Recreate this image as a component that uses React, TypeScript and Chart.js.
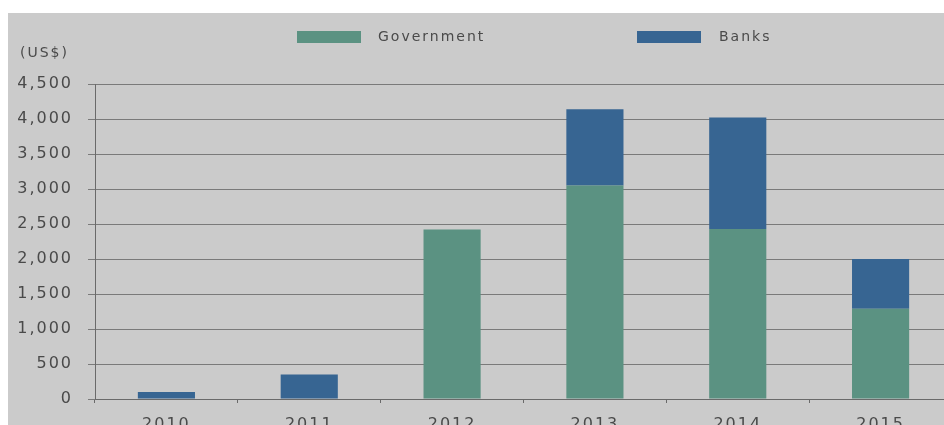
import React, { useEffect, useRef } from "react";
import { Chart, registerables } from "chart.js";

Chart.register(...registerables);

const categories = ["2010", "2011", "2012", "2013", "2014", "2015"];
const government = [0, 0, 2420, 3050, 2430, 1290];
const banks = [100, 350, 0, 1090, 1590, 710];
const yTicks = [0, 500, 1000, 1500, 2000, 2500, 3000, 3500, 4000, 4500];
const unitLabel = "(US$)";

const GOV = "#5b9282";
const BANK = "#376592";
const TEXT = "#4a4a4a";
const LS = "2px";

const spacingPlugin = {
  id: "spacing",
  beforeLayout(chart: any) {
    chart.ctx.letterSpacing = LS;
  },
  beforeDraw(chart: any) {
    chart.ctx.letterSpacing = LS;
  },
};

const legendPlugin = {
  id: "customLegend",
  afterDraw(chart: any) {
    const ctx = chart.ctx;
    ctx.save();
    ctx.letterSpacing = "2px";
    const items = [
      { x: 289, tx: 370 },
      { x: 629, tx: 711 },
    ];
    chart.data.datasets.forEach((ds: any, i: number) => {
      const it = items[i];
      ctx.fillStyle = ds.backgroundColor;
      ctx.fillRect(it.x, 18, 64, 12);
      ctx.fillStyle = TEXT;
      ctx.font = "14px 'DejaVu Sans'";
      ctx.textBaseline = "middle";
      ctx.textAlign = "left";
      ctx.fillText(ds.label, it.tx, 24);
    });
    ctx.font = "14px 'DejaVu Sans'";
    ctx.fillStyle = TEXT;
    ctx.textBaseline = "middle";
    ctx.fillText(unitLabel, 12, 40);
    ctx.restore();
  },
};

export default function App() {
  const ref = useRef<HTMLCanvasElement | null>(null);
  useEffect(() => {
    if (!ref.current) return;
    const chart = new Chart(ref.current, {
      type: "bar",
      data: {
        labels: categories,
        datasets: [
          { label: "Government", data: government, backgroundColor: GOV, categoryPercentage: 1, barPercentage: 0.4 },
          { label: "Banks", data: banks, backgroundColor: BANK, categoryPercentage: 1, barPercentage: 0.4 },
        ],
      },
      options: {
        responsive: false,
        animation: false,
        devicePixelRatio: 1,
        layout: { padding: { left: 0, top: 71, right: 16, bottom: 13 } },
        plugins: { legend: { display: false }, tooltip: { enabled: false }, title: { display: false } },
        scales: {
          x: {
            stacked: true,
            grid: { display: true, drawOnChartArea: false, offset: true, tickLength: 4, color: "#6a6a6a" },
            border: { display: true, color: "#6a6a6a" },
            ticks: { color: TEXT, font: { family: "'DejaVu Sans'", size: 16 }, padding: 12 },
            afterFit: (s: any) => { s.height = 31; },
          },
          y: {
            stacked: true,
            min: 0,
            max: 4500,
            afterBuildTicks: (s: any) => { s.ticks = yTicks.map((v) => ({ value: v })); },
            grid: { color: "#7a7a7a", tickLength: 7 },
            border: { display: true, color: "#6a6a6a" },
            ticks: {
              color: TEXT,
              font: { family: "'DejaVu Sans'", size: 16 },
              padding: 15,
              callback: (v: any) => Number(v).toLocaleString("en-US"),
            },
            afterFit: (s: any) => { s.width = 87; },
          },
        },
      },
      plugins: [spacingPlugin, legendPlugin],
    });
    return () => chart.destroy();
  }, []);

  return (
    <div style={{ position: "fixed", left: 0, top: 0, width: 944, height: 425, overflow: "hidden", background: "#fff" }}>
      <div style={{ position: "absolute", left: 8, top: 13, width: 960, height: 430, background: "#cbcbcb" }}>
        <canvas ref={ref} width={960} height={430} style={{ width: 960, height: 430, display: "block" }} />
      </div>
    </div>
  );
}
